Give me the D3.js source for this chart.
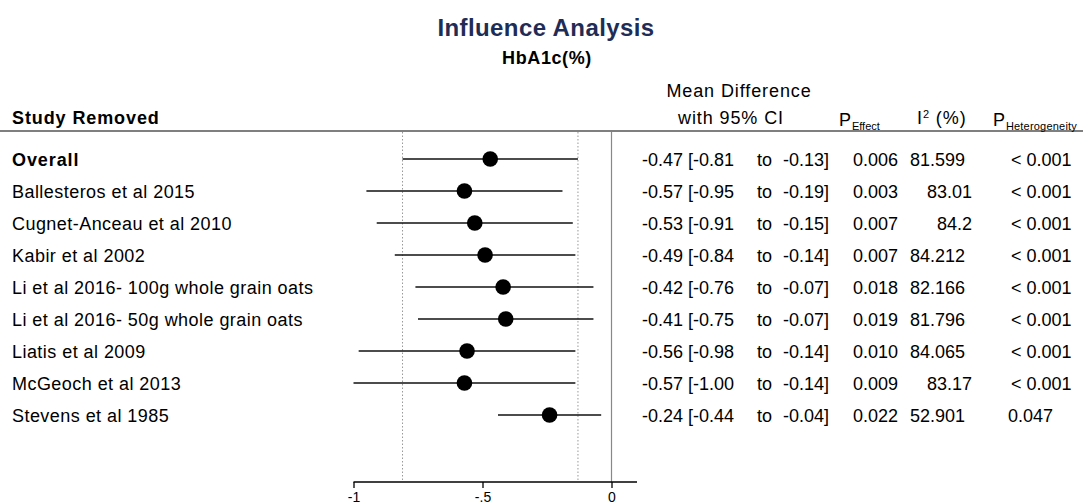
<!DOCTYPE html>
<html>
<head>
<meta charset="utf-8">
<script src="https://cdn.jsdelivr.net/npm/d3@7"></script>
<style>
  body { margin: 0; background: #fff; }
  svg { display: block; font-family: "Liberation Sans", Arial, sans-serif; }
</style>
</head>
<body>
<svg id="chart" width="1083" height="504"></svg>
<script>
// data
const studies = ["Overall", "Ballesteros et al 2015", "Cugnet-Anceau et al 2010", "Kabir et al 2002",
  "Li et al 2016- 100g whole grain oats", "Li et al 2016- 50g whole grain oats",
  "Liatis et al 2009", "McGeoch et al 2013", "Stevens et al 1985"];
const meanDiff = [-0.47, -0.57, -0.53, -0.49, -0.42, -0.41, -0.56, -0.57, -0.24];
const ciLow = [-0.81, -0.95, -0.91, -0.84, -0.76, -0.75, -0.98, -1.00, -0.44];
const ciHigh = [-0.13, -0.19, -0.15, -0.14, -0.07, -0.07, -0.14, -0.14, -0.04];
const pEffect = ["0.006", "0.003", "0.007", "0.007", "0.018", "0.019", "0.010", "0.009", "0.022"];
const i2 = ["81.599", "83.01", "84.2", "84.212", "82.166", "81.796", "84.065", "83.17", "52.901"];
const pHet = ["< 0.001", "< 0.001", "< 0.001", "< 0.001", "< 0.001", "< 0.001", "< 0.001", "< 0.001", "0.047"];
const xTicks = [-1, -0.5, 0];
const xTickLabels = ["-1", "-.5", "0"];

const svg = d3.select("#chart");
const f2 = d3.format(".2f");
const fmt = v => f2(v).replace("\u2212", "-");

const x = d3.scaleLinear().domain([-1, 0]).range([353.5, 611.5]);
const y = d3.scaleBand().domain(d3.range(studies.length)).range([143, 431]);
const yc = i => y(i) + y.bandwidth() / 2;
const plotTop = 131, axisY = 482;

// titles
svg.append("text").attr("x", 546).attr("y", 36).attr("text-anchor", "middle")
  .attr("font-size", 24).attr("font-weight", "bold").attr("letter-spacing", 0.4)
  .attr("fill", "#1f2d56").text("Influence Analysis");
svg.append("text").attr("x", 547).attr("y", 64).attr("text-anchor", "middle")
  .attr("font-size", 18).attr("font-weight", "bold").attr("letter-spacing", 0.6).text("HbA1c(%)");

// header
const hdr = svg.append("g").attr("font-size", 18).attr("letter-spacing", 0.9);
hdr.append("text").attr("x", 12).attr("y", 124).attr("font-weight", "bold").text("Study Removed");
hdr.append("text").attr("x", 739).attr("y", 97).attr("text-anchor", "middle").text("Mean Difference");
hdr.append("text").attr("x", 731).attr("y", 124).attr("text-anchor", "middle").text("with 95% CI");
const pe = hdr.append("text").attr("x", 839).attr("y", 126);
pe.append("tspan").text("P");
pe.append("tspan").attr("font-size", 11).attr("letter-spacing", 0).attr("dy", 4).text("Effect");
const i2t = hdr.append("text").attr("x", 917).attr("y", 124);
i2t.append("tspan").text("I");
i2t.append("tspan").attr("font-size", 11).attr("dy", -6).text("2");
i2t.append("tspan").attr("dy", 6).text(" (%)");
const ph = hdr.append("text").attr("x", 993).attr("y", 126);
ph.append("tspan").text("P");
ph.append("tspan").attr("font-size", 11).attr("letter-spacing", 0.2).attr("dy", 4).text("Heterogeneity");

svg.append("line").attr("x1", 0).attr("x2", 1083).attr("y1", plotTop).attr("y2", plotTop)
  .attr("stroke", "#000").attr("stroke-width", 1.2);

// reference lines at overall CI (dotted) and zero (solid)
[ciLow[0], ciHigh[0]].forEach(v => {
  svg.append("line").attr("x1", x(v)).attr("x2", x(v)).attr("y1", plotTop + 1).attr("y2", axisY)
    .attr("stroke", "#999").attr("stroke-dasharray", "1.5,2");
});
svg.append("line").attr("x1", x(0)).attr("x2", x(0)).attr("y1", plotTop + 1).attr("y2", axisY)
  .attr("stroke", "#888").attr("stroke-width", 1.2);

// CIs and points
const rows = svg.append("g").selectAll("g").data(studies).join("g");
rows.append("line")
  .attr("x1", (d, i) => x(ciLow[i])).attr("x2", (d, i) => x(ciHigh[i]))
  .attr("y1", (d, i) => yc(i)).attr("y2", (d, i) => yc(i))
  .attr("stroke", "#111").attr("stroke-width", 1.5);
rows.append("circle")
  .attr("cx", (d, i) => x(meanDiff[i])).attr("cy", (d, i) => yc(i)).attr("r", 7.8).attr("fill", "#000");

// study labels
const ty = (d, i) => yc(i) + 6.5;
rows.append("text").attr("x", 12).attr("y", ty).attr("font-size", 18)
  .attr("letter-spacing", (d, i) => i === 0 ? 0.9 : 0.45)
  .attr("font-weight", (d, i) => i === 0 ? "bold" : "normal").text(d => d);

// right columns
const tx = rows.append("g").attr("font-size", 18);
tx.append("text").attr("x", 642).attr("y", ty).text((d, i) => fmt(meanDiff[i]));
tx.append("text").attr("x", 688).attr("y", ty).text((d, i) => "[" + fmt(ciLow[i]));
tx.append("text").attr("x", 757).attr("y", ty).text("to");
tx.append("text").attr("x", 783).attr("y", ty).text((d, i) => fmt(ciHigh[i]) + "]");
tx.append("text").attr("x", 853).attr("y", ty).text((d, i) => pEffect[i]);
tx.append("text").attr("x", (d, i) => i2[i].length >= 6 ? 965 : 972).attr("y", ty)
  .attr("text-anchor", "end").text((d, i) => i2[i]);
tx.append("text").attr("x", (d, i) => pHet[i].startsWith("<") ? 1011 : 1008).attr("y", ty)
  .text((d, i) => pHet[i]);

// axis
const axis = d3.axisBottom(x).tickValues(xTicks).tickFormat((d, i) => xTickLabels[i]).tickSize(6).tickSizeOuter(0);
const ag = svg.append("g").attr("transform", `translate(0,${axisY})`).call(axis);
ag.select(".domain").attr("d", `M${x(-1)},0H637`).attr("stroke", "#000").attr("stroke-width", 1.3);
ag.selectAll(".tick line").attr("stroke", "#000").attr("stroke-width", 1.3);
ag.selectAll(".tick text").attr("font-size", 14).attr("fill", "#000").attr("y", 0).attr("dy", 0)
  .attr("transform", "translate(0,20)")
  .attr("font-family", "Liberation Sans, Arial, sans-serif");
</script>
</body>
</html>
